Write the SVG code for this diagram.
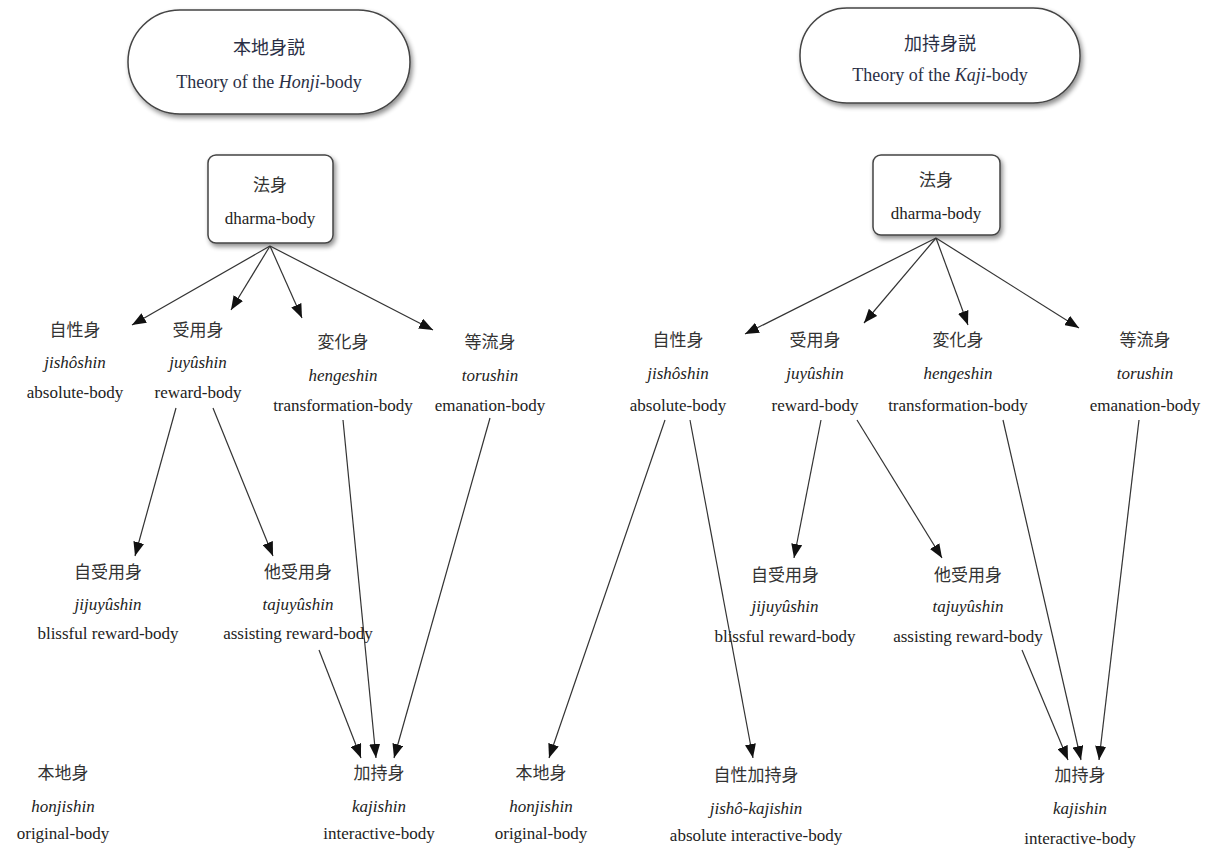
<svg xmlns="http://www.w3.org/2000/svg" width="1219" height="851" viewBox="0 0 1219 851">
  <style>
    text { font-family: "Liberation Serif", "Noto Sans CJK JP", serif; fill: #222; text-anchor: middle; font-size: 17px; }
    .cjk { font-size: 17px; fill: #333; }
    .title { font-size: 18px; fill: #2a2f45; }
    .it { font-style: italic; }
    .box { fill: #fff; stroke: #444; stroke-width: 1.5; filter: url(#shadow); }
    .edge { stroke: #333; stroke-width: 1.2; fill: none; marker-end: url(#arrow); }
  </style>
  <defs>
    <marker id="arrow" markerUnits="userSpaceOnUse" markerWidth="15" markerHeight="11" refX="14" refY="5.5" orient="auto">
      <path d="M0,0 L14,5.5 L0,11 z" fill="#111"/>
    </marker>
    <filter id="shadow" x="-10%" y="-10%" width="130%" height="140%">
      <feGaussianBlur in="SourceAlpha" stdDeviation="2.5"/>
      <feOffset dx="2" dy="3" result="b"/>
      <feComponentTransfer><feFuncA type="linear" slope="0.45"/></feComponentTransfer>
      <feMerge><feMergeNode/><feMergeNode in="SourceGraphic"/></feMerge>
    </filter>
  </defs>

  <!-- left tree: Honji-body theory -->
  <g id="honji-title">
    <rect class="box" x="128" y="10" width="282" height="104" rx="52"/>
    <text class="cjk title" x="269" y="54">本地身説</text>
    <text class="title" x="269" y="88">Theory of the <tspan class="it">Honji</tspan>-body</text>
  </g>
  <g id="L-dharma">
    <rect class="box" x="208" y="155" width="125" height="88" rx="8"/>
    <text class="cjk" x="270" y="191">法身</text>
    <text x="270" y="224">dharma-body</text>
  </g>
  <g id="L-jisho">
    <text class="cjk" x="75" y="336">自性身</text>
    <text class="it" x="75" y="368">jishôshin</text>
    <text x="75" y="398">absolute-body</text>
  </g>
  <g id="L-juyu">
    <text class="cjk" x="198" y="336">受用身</text>
    <text class="it" x="198" y="368">juyûshin</text>
    <text x="198" y="398">reward-body</text>
  </g>
  <g id="L-henge">
    <text class="cjk" x="343" y="348">変化身</text>
    <text class="it" x="343" y="381">hengeshin</text>
    <text x="343" y="411">transformation-body</text>
  </g>
  <g id="L-toru">
    <text class="cjk" x="490" y="348">等流身</text>
    <text class="it" x="490" y="381">torushin</text>
    <text x="490" y="411">emanation-body</text>
  </g>
  <g id="L-jijuyu">
    <text class="cjk" x="108" y="578">自受用身</text>
    <text class="it" x="108" y="610">jijuyûshin</text>
    <text x="108" y="639">blissful reward-body</text>
  </g>
  <g id="L-tajuyu">
    <text class="cjk" x="298" y="578">他受用身</text>
    <text class="it" x="298" y="610">tajuyûshin</text>
    <text x="298" y="639">assisting reward-body</text>
  </g>
  <g id="L-honji">
    <text class="cjk" x="63" y="779">本地身</text>
    <text class="it" x="63" y="812">honjishin</text>
    <text x="63" y="839">original-body</text>
  </g>
  <g id="L-kaji">
    <text class="cjk" x="379" y="779">加持身</text>
    <text class="it" x="379" y="812">kajishin</text>
    <text x="379" y="839">interactive-body</text>
  </g>

  <!-- right tree: Kaji-body theory -->
  <g id="kaji-title">
    <rect class="box" x="800" y="8" width="280" height="95" rx="47"/>
    <text class="cjk title" x="940" y="50">加持身説</text>
    <text class="title" x="940" y="81">Theory of the <tspan class="it">Kaji</tspan>-body</text>
  </g>
  <g id="R-dharma">
    <rect class="box" x="873" y="155" width="127" height="80" rx="8"/>
    <text class="cjk" x="936" y="186">法身</text>
    <text x="936" y="219">dharma-body</text>
  </g>
  <g id="R-jisho">
    <text class="cjk" x="678" y="346">自性身</text>
    <text class="it" x="678" y="379">jishôshin</text>
    <text x="678" y="411">absolute-body</text>
  </g>
  <g id="R-juyu">
    <text class="cjk" x="815" y="346">受用身</text>
    <text class="it" x="815" y="379">juyûshin</text>
    <text x="815" y="411">reward-body</text>
  </g>
  <g id="R-henge">
    <text class="cjk" x="958" y="346">変化身</text>
    <text class="it" x="958" y="379">hengeshin</text>
    <text x="958" y="411">transformation-body</text>
  </g>
  <g id="R-toru">
    <text class="cjk" x="1145" y="346">等流身</text>
    <text class="it" x="1145" y="379">torushin</text>
    <text x="1145" y="411">emanation-body</text>
  </g>
  <g id="R-jijuyu">
    <text class="cjk" x="785" y="581">自受用身</text>
    <text class="it" x="785" y="612">jijuyûshin</text>
    <text x="785" y="642">blissful reward-body</text>
  </g>
  <g id="R-tajuyu">
    <text class="cjk" x="968" y="581">他受用身</text>
    <text class="it" x="968" y="612">tajuyûshin</text>
    <text x="968" y="642">assisting reward-body</text>
  </g>
  <g id="R-honji">
    <text class="cjk" x="541" y="779">本地身</text>
    <text class="it" x="541" y="812">honjishin</text>
    <text x="541" y="839">original-body</text>
  </g>
  <g id="R-jisho-kaji">
    <text class="cjk" x="756" y="781">自性加持身</text>
    <text class="it" x="756" y="814">jishô-kajishin</text>
    <text x="756" y="841">absolute interactive-body</text>
  </g>
  <g id="R-kaji">
    <text class="cjk" x="1080" y="781">加持身</text>
    <text class="it" x="1080" y="814">kajishin</text>
    <text x="1080" y="844">interactive-body</text>
  </g>

  <g id="connectors">
    <!-- left -->
    <line class="edge" x1="270" y1="246" x2="132" y2="325"/>
    <line class="edge" x1="270" y1="246" x2="231" y2="310"/>
    <line class="edge" x1="270" y1="246" x2="302" y2="318"/>
    <line class="edge" x1="270" y1="246" x2="433" y2="330"/>
    <line class="edge" x1="176" y1="408" x2="135" y2="556"/>
    <line class="edge" x1="213" y1="408" x2="273" y2="556"/>
    <line class="edge" x1="343" y1="420" x2="376" y2="758"/>
    <line class="edge" x1="490" y1="418" x2="394" y2="758"/>
    <line class="edge" x1="319" y1="650" x2="361" y2="758"/>
    <!-- right -->
    <line class="edge" x1="936" y1="238" x2="745" y2="334"/>
    <line class="edge" x1="936" y1="238" x2="864" y2="323"/>
    <line class="edge" x1="936" y1="238" x2="968" y2="325"/>
    <line class="edge" x1="936" y1="238" x2="1079" y2="328"/>
    <line class="edge" x1="665" y1="420" x2="549" y2="758"/>
    <line class="edge" x1="690" y1="420" x2="753" y2="758"/>
    <line class="edge" x1="821" y1="420" x2="794" y2="558"/>
    <line class="edge" x1="857" y1="420" x2="942" y2="558"/>
    <line class="edge" x1="1022" y1="650" x2="1068" y2="760"/>
    <line class="edge" x1="1003" y1="420" x2="1081" y2="760"/>
    <line class="edge" x1="1139" y1="420" x2="1099" y2="760"/>
  </g>
</svg>
